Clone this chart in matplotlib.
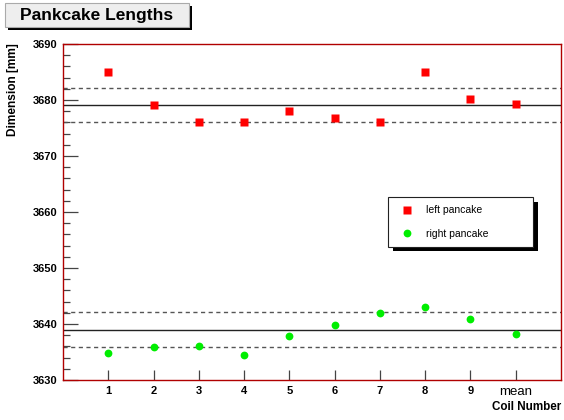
import matplotlib
matplotlib.use("Agg")
import matplotlib.pyplot as plt
from matplotlib.patches import Rectangle
import numpy as np

plt.rcParams['font.family'] = ['Liberation Sans', 'DejaVu Sans']

# coil index 1..9 plus the mean at position 10
coil_labels = ["1", "2", "3", "4", "5", "6", "7", "8", "9", "mean"]
left_pancake = [3685.0, 3679.1, 3676.1, 3676.1, 3678.1, 3676.85, 3676.1, 3685.0, 3680.1, 3679.2]
right_pancake = [3634.9, 3635.95, 3636.0, 3634.4, 3637.9, 3639.9, 3641.9, 3643.0, 3640.9, 3638.3]

# mean and +/- band lines
left_lines = [3682.2, 3679.1, 3676.1]
right_lines = [3642.1, 3639.0, 3635.95]

W, H = 564, 420
fig = plt.figure(figsize=(W / 100, H / 100), dpi=100)

def fx(px):
    return px / W

def fy(py):
    return 1 - py / H

# axes frame in pixels: left 63, right 561, top 44, bottom 380
ax = fig.add_axes([fx(63), fy(380), fx(561) - fx(63), fy(44) - fy(380)])

x = np.arange(1, len(coil_labels) + 1)

for lines in (left_lines, right_lines):
    for val, ls in zip(lines, ['dashed', 'solid', 'dashed']):
        if ls == 'solid':
            ax.axhline(val, color='#222222', lw=1.0)
        else:
            ax.axhline(val, color='#555555', lw=1.0, linestyle=(0, (3, 2.5)))

ax.plot(x, left_pancake, 's', color='#ff0000', ms=5.2, mec='none', label='left pancake', zorder=3)
ax.plot(x, right_pancake, 'o', color='#00ee00', ms=5.6, mec='none', label='right pancake', zorder=3)

ax.set_xlim(0, 11)
ax.set_ylim(3630, 3690)

ax.set_yticks(np.arange(3630, 3691, 10))
ax.set_yticks(np.arange(3630, 3691, 2), minor=True)
ax.set_xticks(x)
ax.set_xticklabels(coil_labels)

ax.tick_params(axis='y', which='major', direction='in', length=11, width=0.9, color='#444444',
               labelsize=8, pad=4)
ax.tick_params(axis='y', which='minor', direction='in', length=5, width=0.9, color='#444444')
ax.tick_params(axis='x', which='major', direction='in', length=7, width=0.9, color='#444444',
               labelsize=8, pad=4)
for lab in ax.get_yticklabels():
    lab.set_fontweight('bold')
for lab in ax.get_xticklabels():
    if lab.get_text() == 'mean':
        lab.set_fontsize(9.5)
        lab.set_fontweight('normal')
    else:
        lab.set_fontweight('bold')

for sp in ax.spines.values():
    sp.set_color('#b00000')
    sp.set_linewidth(1.0)

# axis titles
fig.text(fx(13), fy(43), "Dimension [mm]", rotation=90, ha='center', va='top',
         fontsize=8.6, fontweight='bold')
fig.text(fx(561), fy(407), "Coil Number", ha='right', va='center',
         fontsize=8.4, fontweight='bold')

# title box with shadow
fig.add_artist(Rectangle((fx(8), fy(30)), fx(184), fy(6) - fy(30), transform=fig.transFigure,
                         fc='black', ec='none'))
fig.add_artist(Rectangle((fx(5), fy(27)), fx(184), fy(3) - fy(27), transform=fig.transFigure,
                         fc='#eeeeee', ec='#aaaaaa', lw=0.8))
fig.text(fx(97), fy(15.5), "Pankcake Lengths", ha='center', va='center',
         fontsize=12.5, fontweight='bold')

# legend with shadow (shadow drawn inside the axes, below the legend)
ax.add_patch(Rectangle((fx(393), fy(251)), fx(145), fy(202) - fy(251), transform=fig.transFigure,
                       fc='black', ec='none', zorder=4, clip_on=False))
leg = ax.legend(loc='upper left', bbox_to_anchor=(fx(388), fy(246), fx(145), fy(197) - fy(246)),
                bbox_transform=fig.transFigure, mode='expand', borderaxespad=0,
                fancybox=False, framealpha=1, edgecolor='#222222', fontsize=7.5,
                handlelength=2.0, handletextpad=0.8, labelspacing=1.3, borderpad=0.8,
                numpoints=1)
leg.set_zorder(5)
leg.get_frame().set_linewidth(0.8)

fig.savefig("out.png", dpi=100)
